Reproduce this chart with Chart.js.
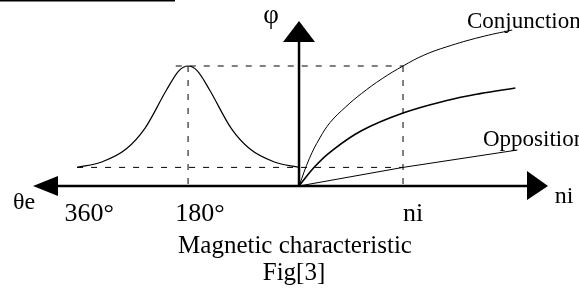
<!DOCTYPE html>
<html>
<head>
<meta charset="utf-8">
<script src="https://cdn.jsdelivr.net/npm/chart.js@4/dist/chart.umd.min.js"></script>
<style>
  html, body { margin: 0; padding: 0; background: #fff; }
  #wrap { width: 579px; height: 291px; position: relative; }
</style>
</head>
<body>
<div id="wrap"><canvas id="myChart"></canvas></div>
<script>
// right half: flux against ampere-turns (ni = 1 at the dashed mark)
let niConj = [0, 0.1, 0.2, 0.3, 0.45, 0.6, 0.8, 1.0, 1.2, 1.42, 1.74, 2.05];
let phiConj = [0, 0.23, 0.4, 0.53, 0.66, 0.77, 0.895, 1.0, 1.09, 1.16, 1.24, 1.3];
let niMid = [0, 0.15, 0.3, 0.6, 1.0, 1.42, 1.74, 2.08];
let phiMid = [0, 0.16, 0.283, 0.46, 0.608, 0.712, 0.77, 0.817];
let niOpp = [0, 1.0, 2.1];
let phiOpp = [0, 0.155, 0.3];

// left half: flux against electrical angle
let thetaDeg = [360, 320, 280, 250, 215, 195, 180, 165, 145, 110, 80, 40, 0];
let phiTheta = [0.155, 0.2, 0.31, 0.48, 0.8, 0.96, 1.0, 0.96, 0.8, 0.48, 0.31, 0.2, 0.155];

let thetaTicks = [360, 180];
let thetaTickLabels = ["360°", "180°"];
let niTicks = [1];
let niTickLabels = ["ni"];

// dashed guide levels
let phiHigh = 1.0;
let phiLow = 0.155;
let thetaHighStart = 200;

function pts(xs, ys) {
  return xs.map((v, i) => ({ x: v, y: ys[i] }));
}

const serif = '"Liberation Serif", "Times New Roman", serif';

let sketchPlugin = {
  id: "sketch",
  beforeDatasetsDraw(chart) {
    let ctx = chart.ctx;
    let sx = chart.scales.x, st = chart.scales.theta, sy = chart.scales.y;
    ctx.save();
    ctx.strokeStyle = "#000";
    ctx.lineWidth = 1;
    ctx.setLineDash([6, 8]);
    let xRight = sx.getPixelForValue(niTicks[0]);
    let yHi = sy.getPixelForValue(phiHigh);
    let yLo = sy.getPixelForValue(phiLow);
    let y0 = sy.getPixelForValue(0);
    ctx.beginPath();
    ctx.moveTo(st.getPixelForValue(thetaHighStart), yHi);
    ctx.lineTo(xRight, yHi);
    ctx.moveTo(st.getPixelForValue(thetaDeg[0]), yLo);
    ctx.lineTo(xRight, yLo);
    let xMid = st.getPixelForValue(thetaTicks[1]);
    ctx.moveTo(xMid, yHi);
    ctx.lineTo(xMid, y0);
    ctx.moveTo(xRight, yHi);
    ctx.lineTo(xRight, y0);
    ctx.stroke();
    ctx.restore();
  },
  afterDraw(chart) {
    let ctx = chart.ctx;
    let sx = chart.scales.x, st = chart.scales.theta, sy = chart.scales.y;
    let ox = sx.getPixelForValue(0);
    let oy = sy.getPixelForValue(0);
    ctx.save();
    ctx.fillStyle = "#000";
    ctx.strokeStyle = "#000";
    ctx.setLineDash([]);

    // heading rule cut off at the top
    ctx.fillRect(0, 0, 175, 1.5);

    // axes
    ctx.lineWidth = 2.5;
    ctx.beginPath();
    ctx.moveTo(50, oy);
    ctx.lineTo(535, oy);
    ctx.moveTo(ox, oy);
    ctx.lineTo(ox, 36);
    ctx.stroke();

    // arrow heads
    ctx.beginPath();
    ctx.moveTo(33, oy);
    ctx.lineTo(58, oy - 10);
    ctx.lineTo(58, oy + 10);
    ctx.closePath();
    ctx.fill();
    ctx.beginPath();
    ctx.moveTo(548, oy);
    ctx.lineTo(527, oy - 15);
    ctx.lineTo(527, oy + 14);
    ctx.closePath();
    ctx.fill();
    ctx.beginPath();
    ctx.moveTo(ox, 21);
    ctx.lineTo(ox - 16, 42);
    ctx.lineTo(ox + 16, 42);
    ctx.closePath();
    ctx.fill();

    // tick labels
    ctx.font = "26px " + serif;
    ctx.textAlign = "center";
    ctx.textBaseline = "alphabetic";
    thetaTicks.forEach((t, i) => {
      ctx.fillText(thetaTickLabels[i], st.getPixelForValue(t) + 12, 221);
    });
    niTicks.forEach((t, i) => {
      ctx.fillText(niTickLabels[i], sx.getPixelForValue(t) + 10, 221);
    });

    // axis names
    ctx.font = "24px " + serif;
    ctx.fillText("θe", 24, 209);
    ctx.fillText("ni", 564, 203);
    ctx.font = "27px " + serif;
    ctx.textBaseline = "middle";
    ctx.fillText("φ", 271, 16);

    // curve names
    ctx.textBaseline = "alphabetic";
    ctx.textAlign = "left";
    ctx.font = "23px " + serif;
    ctx.fillText("Conjunction", 467, 28);
    ctx.fillText("Opposition", 483, 146);

    // caption
    ctx.textAlign = "center";
    ctx.font = "25px " + serif;
    ctx.fillText("Magnetic characteristic", 295, 253);
    ctx.fillText("Fig[3]", 294, 280);
    ctx.restore();
  }
};

let lineStyle = { borderColor: "#000", backgroundColor: "#000", pointRadius: 0, showLine: true, fill: false, tension: 0.4 };

let mychart = document.getElementById("myChart").getContext("2d");
let chart = new Chart(mychart, {
  type: "scatter",
  data: {
    datasets: [
      { ...lineStyle, label: "Conjunction", data: pts(niConj, phiConj), xAxisID: "x", borderWidth: 1 },
      { ...lineStyle, label: "Intermediate", data: pts(niMid, phiMid), xAxisID: "x", borderWidth: 1.6 },
      { ...lineStyle, label: "Opposition", data: pts(niOpp, phiOpp), xAxisID: "x", borderWidth: 1, tension: 0 },
      { ...lineStyle, label: "Flux vs angle", data: pts(thetaDeg, phiTheta), xAxisID: "theta", borderWidth: 1.2, cubicInterpolationMode: "monotone" },
    ],
  },
  options: {
    responsive: true,
    maintainAspectRatio: false,
    animation: false,
    layout: { padding: 0 },
    plugins: { legend: { display: false }, tooltip: { enabled: false } },
    scales: {
      x: { type: "linear", display: false, min: -2.875, max: 2.692 },
      theta: { type: "linear", display: false, reverse: true, min: -454, max: 485 },
      y: { type: "linear", display: false, min: -0.875, max: 1.55 },
    },
  },
  plugins: [sketchPlugin],
});
</script>
</body>
</html>
